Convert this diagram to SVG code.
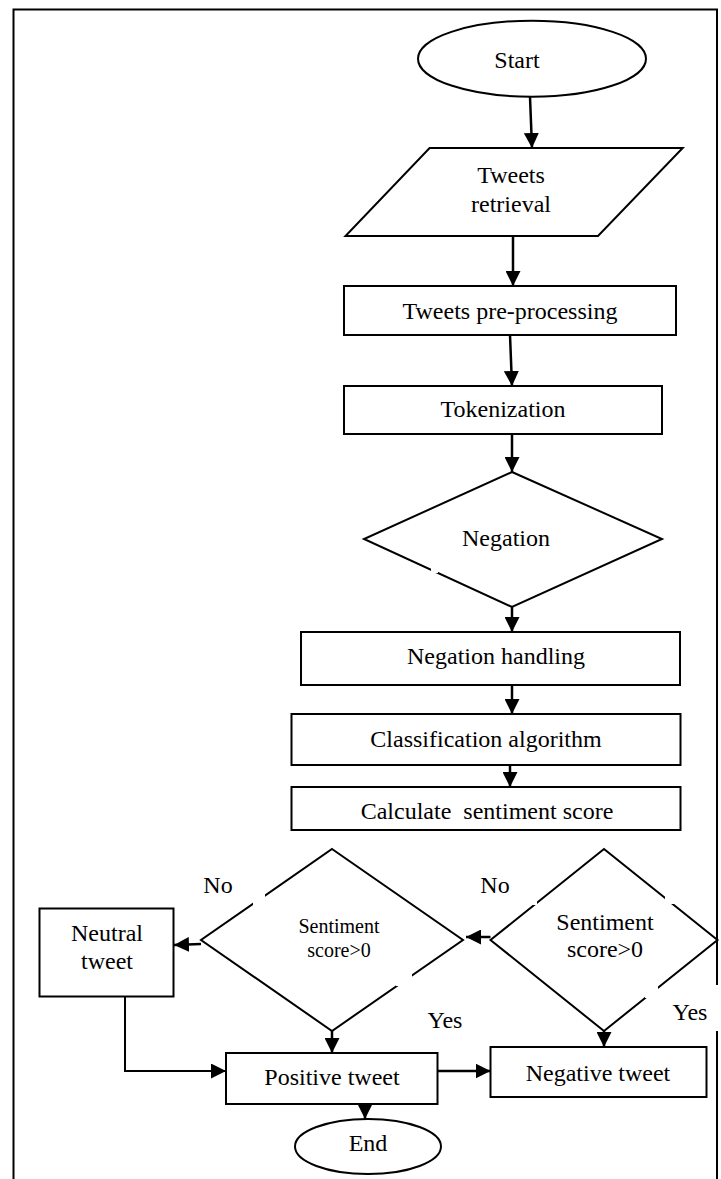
<svg xmlns="http://www.w3.org/2000/svg" width="721" height="1179" viewBox="0 0 721 1179">
<style>
.s{fill:#fff;stroke:#000;stroke-width:2}
.t{font-family:"Liberation Serif","Times New Roman",serif;font-size:24px;fill:#000;text-anchor:middle}
.sm{font-size:20px}
.c{fill:none;stroke:#000;stroke-width:2.5}
.f{fill:none;stroke:#000;stroke-width:2}
.gap{fill:#fff;stroke:none}
</style>
<defs>
<marker id="ah" markerUnits="userSpaceOnUse" markerWidth="15" markerHeight="15" refX="15" refY="7.5" orient="auto" viewBox="0 0 15 15">
<path d="M0,0 L15,7.5 L0,15 z" fill="#000"/>
</marker>
</defs>
<rect width="721" height="1179" fill="#fff"/>
<g id="frame">
<path class="f" d="M13.5,1179 V9.5 H717 V985 M717,1031 V1179"/>
</g>
<g id="start">
<ellipse class="s" cx="532" cy="58.7" rx="114" ry="38"/>
<text class="t" x="517" y="68">Start</text>
</g>
<g id="retrieval">
<polygon class="s" points="429.6,148 682.7,148 598,236 345.5,236"/>
<text class="t" x="511" y="183">Tweets</text>
<text class="t" x="511" y="212">retrieval</text>
</g>
<g id="preprocessing">
<rect class="s" x="344" y="286" width="332" height="49"/>
<text class="t" x="510" y="319">Tweets pre-processing</text>
</g>
<g id="tokenization">
<rect class="s" x="344" y="386" width="318" height="48"/>
<text class="t" x="503" y="417">Tokenization</text>
</g>
<g id="negation">
<polygon class="s" points="512,472 662,539 512,607 364,539"/>
<text class="t" x="506" y="546">Negation</text>
</g>
<g id="negationHandling">
<rect class="s" x="301" y="632" width="379" height="53"/>
<text class="t" x="496" y="664">Negation handling</text>
</g>
<g id="classification">
<rect class="s" x="291.5" y="714" width="389" height="51"/>
<text class="t" x="486" y="747">Classification algorithm</text>
</g>
<g id="calculate">
<rect class="s" x="291.5" y="787" width="389" height="43"/>
<text class="t" x="487" y="819" xml:space="preserve">Calculate  sentiment score</text>
</g>
<g id="decision1">
<polygon class="s" points="332,849 463,940 332,1031 201,940"/>
<text class="t sm" x="339" y="933">Sentiment</text>
<text class="t sm" x="339" y="957">score&gt;0</text>
</g>
<g id="decision2">
<polygon class="s" points="604,849 717.5,940 604,1031 490.5,940"/>
<text class="t" x="605" y="930">Sentiment</text>
<text class="t" x="605" y="957">score&gt;0</text>
</g>
<g id="neutral">
<rect class="s" x="39.5" y="908.5" width="134" height="88"/>
<text class="t" x="107" y="941">Neutral</text>
<text class="t" x="107" y="969">tweet</text>
</g>
<g id="positive">
<rect class="s" x="226" y="1053" width="211.5" height="51"/>
<text class="t" x="332" y="1085">Positive tweet</text>
</g>
<g id="negative">
<rect class="s" x="490.5" y="1047" width="216" height="50"/>
<text class="t" x="598" y="1081">Negative tweet</text>
</g>
<g id="end">
<ellipse class="s" cx="368" cy="1146.5" rx="73" ry="27.5"/>
<text class="t" x="368" y="1151">End</text>
</g>
<g id="gaps">
<rect class="gap" x="431" y="567" width="7" height="6"/>
<rect class="gap" x="253" y="894" width="12" height="11"/>
<rect class="gap" x="526" y="894" width="11" height="11"/>
<rect class="gap" x="665" y="896" width="11" height="8"/>
<rect class="gap" x="396" y="973" width="16" height="13"/>
<rect class="gap" x="645" y="986" width="13" height="12"/>
</g>
<g id="labels">
<text class="t" x="218" y="893">No</text>
<text class="t" x="495" y="893">No</text>
<text class="t" x="445" y="1028">Yes</text>
<text class="t" x="690" y="1020">Yes</text>
</g>
<g id="connectors">
<line class="c" x1="530" y1="97" x2="532" y2="148" marker-end="url(#ah)"/>
<line class="c" x1="513" y1="236" x2="513" y2="286" marker-end="url(#ah)"/>
<line class="c" x1="510" y1="335" x2="512" y2="386" marker-end="url(#ah)"/>
<line class="c" x1="512" y1="434" x2="512" y2="472" marker-end="url(#ah)"/>
<line class="c" x1="512" y1="607" x2="512" y2="632" marker-end="url(#ah)"/>
<line class="c" x1="512" y1="685" x2="512" y2="714" marker-end="url(#ah)"/>
<line class="c" x1="510" y1="765" x2="510" y2="787" marker-end="url(#ah)"/>
<line class="c" x1="490.5" y1="937" x2="466" y2="937" marker-end="url(#ah)"/>
<line class="c" x1="201" y1="944" x2="174" y2="945" marker-end="url(#ah)"/>
<line class="c" x1="332" y1="1031" x2="332" y2="1053" marker-end="url(#ah)"/>
<line class="c" x1="604" y1="1031" x2="604" y2="1047" marker-end="url(#ah)"/>
<polyline class="f" points="125,996.5 125,1071 226,1071" marker-end="url(#ah)"/>
<line class="c" x1="437.5" y1="1071" x2="490.5" y2="1071" marker-end="url(#ah)"/>
<line class="c" x1="365" y1="1104" x2="365" y2="1119" marker-end="url(#ah)"/>
</g>
</svg>
